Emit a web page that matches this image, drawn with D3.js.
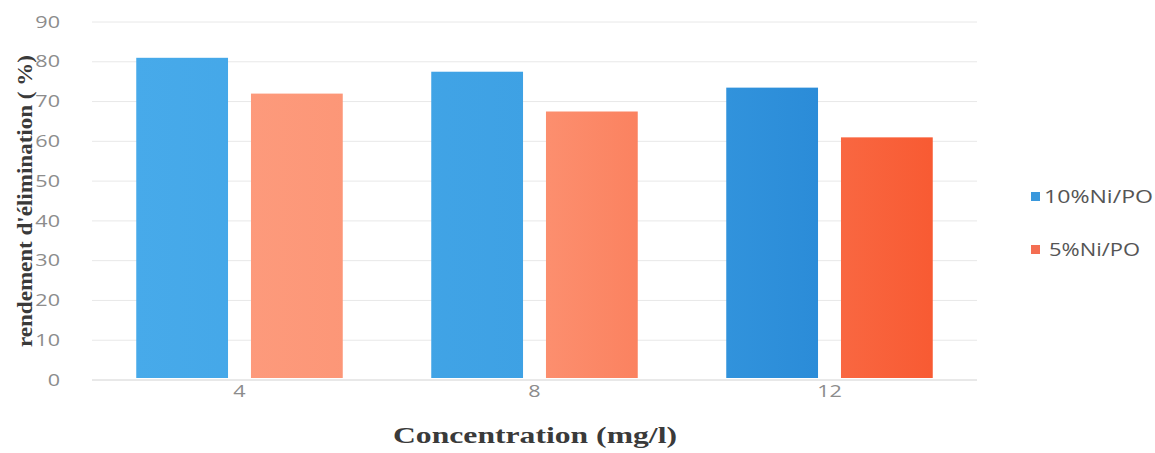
<!DOCTYPE html>
<html>
<head>
<meta charset="utf-8">
<script src="https://cdn.jsdelivr.net/npm/d3@7"></script>
<style>
  html, body { margin: 0; padding: 0; background: #ffffff; }
  svg { display: block; }
</style>
</head>
<body>
<svg id="chart" width="1155" height="453"></svg>
<script>
// Removal yield by initial concentration for two catalysts
const categories = ["4", "8", "12"];
const seriesNames = ["10%Ni/PO", "5%Ni/PO"];
const ni10Values = [81, 77.5, 73.5];
const ni5Values = [72, 67.5, 61];
const yTicks = [0, 10, 20, 30, 40, 50, 60, 70, 80, 90];

const bars = [];
categories.forEach((c, ci) => {
  [ni10Values[ci], ni5Values[ci]].forEach((v, si) => bars.push({ cat: c, s: si, v }));
});

const svg = d3.select("#chart");
const plotLeft = 92, plotRight = 977, plotTop = 22, plotBottom = 380;
const sansFont = "'Open Sans', 'Liberation Sans', sans-serif";
const serifFont = "'Liberation Serif', 'DejaVu Serif', serif";

// Fills shade across the plot, lighter on the left
const defs = svg.append("defs");
const grads = [
  { id: "gBlue", stops: ["#47aaea", "#3ea1e4", "#2383d3"] },
  { id: "gRed", stops: ["#fd9e80", "#fc9070", "#f85a32"] }
];
grads.forEach(g => {
  const lg = defs.append("linearGradient")
    .attr("id", g.id)
    .attr("gradientUnits", "userSpaceOnUse")
    .attr("x1", plotLeft + 40).attr("x2", plotRight - 40).attr("y1", 0).attr("y2", 0);
  g.stops.forEach((c, k) => {
    lg.append("stop").attr("offset", `${k * 50}%`).attr("stop-color", c);
  });
});
const fills = ["url(#gBlue)", "url(#gRed)"];
const legendColors = ["#3a98dc", "#f46e52"];

const y = d3.scaleLinear().domain([0, 90]).range([plotBottom, plotTop]);
const x0 = d3.scaleBand().domain(categories).range([plotLeft, plotRight])
  .paddingInner(0.3).paddingOuter(0.15);
const x1 = d3.scaleBand().domain(d3.range(seriesNames.length))
  .range([0, x0.bandwidth()]).paddingInner(0.2);

// Horizontal gridlines
svg.append("g")
  .selectAll("line")
  .data(yTicks)
  .join("line")
  .attr("x1", plotLeft).attr("x2", plotRight)
  .attr("y1", d => y(d)).attr("y2", d => y(d))
  .attr("stroke", d => d === 0 ? "#d2d2d2" : "#e8e8e8")
  .attr("stroke-width", 1);

// Y axis tick labels (wide, light face)
const yAxis = d3.axisLeft(y).tickValues(yTicks).tickSize(0).tickPadding(0);
const gy = svg.append("g").attr("transform", "translate(60,0)").call(yAxis);
gy.select(".domain").remove();
gy.selectAll("text")
  .attr("fill", "#8c8c8c")
  .attr("font-family", sansFont)
  .attr("font-size", 16)
  .attr("transform", "scale(1.35,1)");

// Bars, positioned in the svg's own coordinates so the gradient spans the plot
svg.append("g")
  .selectAll("rect")
  .data(bars)
  .join("rect")
  .attr("x", d => x0(d.cat) + x1(d.s))
  .attr("width", x1.bandwidth())
  .attr("y", d => y(d.v))
  .attr("height", d => y(0) - y(d.v) - 2)
  .attr("fill", d => fills[d.s]);

// X axis category labels
const xAxis = d3.axisBottom(x0).tickSize(0).tickPadding(0);
const gx = svg.append("g").attr("transform", `translate(0,${plotBottom + 6})`).call(xAxis);
gx.select(".domain").remove();
gx.selectAll("text")
  .attr("fill", "#8c8c8c")
  .attr("font-family", sansFont)
  .attr("font-size", 16)
  .attr("transform", "scale(1.35,1)");

// Axis titles
svg.append("text")
  .attr("transform", "translate(32,201) rotate(-90)")
  .attr("text-anchor", "middle")
  .attr("fill", "#3a3a3a")
  .attr("font-family", serifFont)
  .attr("font-weight", "bold")
  .attr("font-size", 21)
  .attr("textLength", 292)
  .attr("lengthAdjust", "spacingAndGlyphs")
  .text("rendement d'élimination ( %)");

svg.append("text")
  .attr("x", 535).attr("y", 443)
  .attr("text-anchor", "middle")
  .attr("fill", "#3a3a3a")
  .attr("font-family", serifFont)
  .attr("font-weight", "bold")
  .attr("font-size", 23)
  .attr("textLength", 284)
  .attr("lengthAdjust", "spacingAndGlyphs")
  .text("Concentration (mg/l)");

// Legend
const legendWidths = [109, 91];
const legend = svg.append("g").attr("transform", "translate(1031,196)");
const li = legend.selectAll("g")
  .data(seriesNames)
  .join("g")
  .attr("transform", (d, i) => `translate(0,${i * 53})`);
li.append("rect")
  .attr("x", 0).attr("y", -4)
  .attr("width", 9).attr("height", 9)
  .attr("fill", (d, i) => legendColors[i]);
li.append("text")
  .attr("x", (d, i) => i === 0 ? 13 : 18).attr("y", 0)
  .attr("dy", "0.36em")
  .attr("fill", "#555")
  .attr("font-family", sansFont)
  .attr("font-size", 19)
  .attr("textLength", (d, i) => legendWidths[i])
  .attr("lengthAdjust", "spacingAndGlyphs")
  .text(d => d);
</script>
</body>
</html>
